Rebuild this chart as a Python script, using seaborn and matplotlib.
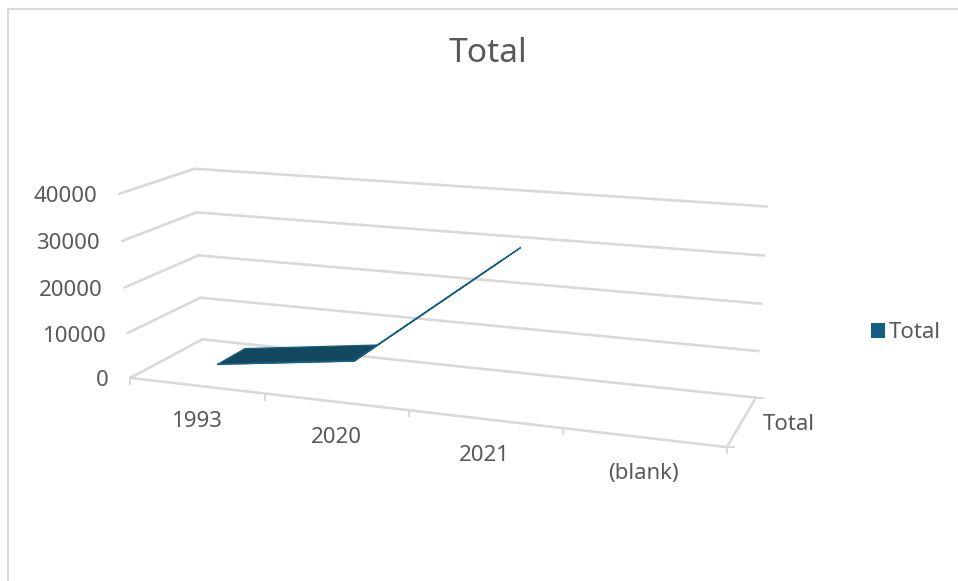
import numpy as np
import pandas as pd
import matplotlib
matplotlib.use("Agg")
import matplotlib.pyplot as plt
from matplotlib.patches import Patch
import seaborn as sns

# ---- chart values ----
categories = ["1993", "2020", "2021", "(blank)"]
series_name = "Total"
series_values = [2000, 6000, 30000]
value_ticks = [0, 10000, 20000, 30000, 40000]

GRID = "#D9D9D9"
TEXT = "#595959"
ACCENT = "#156082"
TOP = "#124860"
FONT = ["Noto Sans", "DejaVu Sans"]

sns.set_theme(style="white", rc={"font.family": FONT})
plt.rcParams["font.family"] = FONT

W, H = 958, 581
fig = plt.figure(figsize=(W / 100, H / 100), dpi=100)
ax = fig.add_axes([0, 0, 1, 1])
ax.set_xlim(0, W)
ax.set_ylim(H, 0)
ax.axis("off")

# ---- camera: (category, depth, value/10000) -> pixel, fitted on the chart box ----
box_refs = [
    (0, 0, 0, 131, 378), (0, 0, 1, 127, 333), (0, 0, 2, 124.5, 287.7), (0, 0, 3, 122, 241), (0, 0, 4, 119, 193.7),
    (0, 1, 0, 201.7, 339), (0, 1, 1, 200, 297.7), (0, 1, 2, 198.7, 255.7), (0, 1, 3, 197, 212), (0, 1, 4, 195, 169),
    (4, 1, 0, 756, 398), (4, 1, 1, 758.7, 351), (4, 1, 2, 761.3, 304), (4, 1, 3, 764, 255.7), (4, 1, 4, 766.7, 206),
    (4, 0, 0, 727, 447), (1, 0, 0, 266, 393.6), (2, 0, 0, 409, 410), (3, 0, 0, 562, 428),
]
rows = []
for cx, cy, cz, px, py in box_refs:
    u, v = px / 1000, py / 1000
    rows.append([cx, cy, cz, 1, 0, 0, 0, 0, -u * cx, -u * cy, -u * cz, -u])
    rows.append([0, 0, 0, 0, cx, cy, cz, 1, -v * cx, -v * cy, -v * cz, -v])
CAM = np.linalg.svd(np.array(rows, dtype=float))[2][-1].reshape(3, 4)


def project(cat, depth, value):
    h = CAM @ np.array([cat, depth, value / 10000.0, 1.0])
    return h[0] / h[2] * 1000, h[1] / h[2] * 1000


def add_lines(records, name, a, b):
    for t, end in enumerate((a, b)):
        px, py = project(*end)
        records.append({"line": name, "order": t, "px": px, "py": py})


n_cat = len(categories)
grid_records = []
for val in value_ticks:
    add_lines(grid_records, f"side{val}", (0, 0, val), (0, 1, val))
    add_lines(grid_records, f"back{val}", (0, 1, val), (n_cat, 1, val))
add_lines(grid_records, "front", (0, 0, 0), (n_cat, 0, 0))
add_lines(grid_records, "right", (n_cat, 0, 0), (n_cat, 1, 0))
grid_df = pd.DataFrame(grid_records)
sns.lineplot(data=grid_df, x="px", y="py", units="line", estimator=None, sort=False,
             color=GRID, linewidth=1.9, ax=ax, legend=False)

# tick marks below the front edge, and short stubs at the corners
for i in range(n_cat + 1):
    px, py = project(i, 0, 0)
    ax.plot([px, px], [py, py + 7], color=GRID, lw=1.4, solid_capstyle="butt")
for end in ((n_cat, 0, 0), (n_cat, 1, 0)):
    px, py = project(*end)
    ax.plot([px, px + 8], [py, py], color=GRID, lw=1.4, solid_capstyle="butt")

# ---- 3-D ribbon ----
d_front, d_back = 0.3, 0.7
centres = [i + 0.5 for i in range(len(series_values))]
for i in range(len(series_values) - 1):
    c0, c1 = centres[i], centres[i + 1]
    v0, v1 = series_values[i], series_values[i + 1]
    quad = [project(c0, d_front, v0), project(c1, d_front, v1),
            project(c1, d_back, v1), project(c0, d_back, v0)]
    ax.fill(*zip(*quad), facecolor=TOP, edgecolor=ACCENT, linewidth=0.9, zorder=4)

front_df = pd.DataFrame([project(c, d_front, v) for c, v in zip(centres, series_values)], columns=["px", "py"])
sns.lineplot(data=front_df, x="px", y="py", estimator=None, sort=False, color=ACCENT,
             linewidth=1.2, ax=ax, legend=False, zorder=5)

# ---- text ----
ax.set_xlabel("")
ax.set_ylabel("")
ax.text(488, 54, series_name, ha="center", va="center", fontsize=24.2, color=TEXT)
for val in value_ticks:
    px, py = project(0, 0, val)
    ax.text(px - 22, py + 3, str(val), ha="right", va="center", fontsize=16, color=TEXT)
for i, lab in enumerate(categories):
    px, py = project(i + 0.5, 0, 0)
    ax.text(px, py + 36, lab, ha="center", va="center", fontsize=16, color=TEXT)
px, py = project(n_cat, 0.5, 0)
ax.text(px + 21, py + 3, series_name, ha="left", va="center", fontsize=16, color=TEXT)

ax.legend(handles=[Patch(facecolor=ACCENT, edgecolor="none", label=series_name)],
          loc="center left", bbox_to_anchor=(864 / W, 1 - 333 / H), frameon=False,
          fontsize=16, labelcolor=TEXT, handlelength=0.65, handleheight=0.65,
          handletextpad=0.16, borderaxespad=0, borderpad=0.3)

# chart-area border: only top and left fall inside the crop
ax.plot([8, 8, W], [H, 9, 9], color=GRID, lw=1.5, solid_joinstyle="miter")

fig.savefig("out.png", dpi=100, facecolor="white")
